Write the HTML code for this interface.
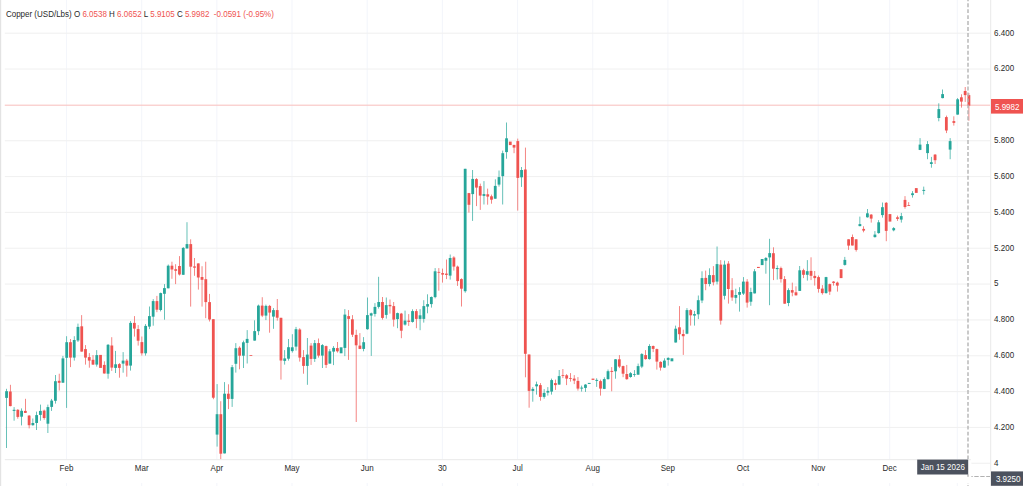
<!DOCTYPE html>
<html lang="en"><head><meta charset="utf-8"><title>Copper (USD/Lbs)</title>
<style>html,body{margin:0;padding:0;background:#fff;overflow:hidden}svg{display:block}text{font-family:"Liberation Sans",Arial,sans-serif;font-size:9.6px;fill:#2a2a2a}.r{fill:#ef5350}.w{fill:#fff}.m{text-anchor:middle}</style></head><body>
<svg width="1024" height="498" viewBox="0 0 1024 498">
<rect width="1024" height="498" fill="#fff"/>
<rect x="0" y="0" width="1.2" height="486" fill="#e3e3e3"/>
<g fill="#f4f6fb">
<rect x="65.95" y="0" width="1.1" height="486"/>
<rect x="141.12" y="0" width="1.1" height="486"/>
<rect x="216.30" y="0" width="1.1" height="486"/>
<rect x="291.47" y="0" width="1.1" height="486"/>
<rect x="366.65" y="0" width="1.1" height="486"/>
<rect x="441.82" y="0" width="1.1" height="486"/>
<rect x="516.99" y="0" width="1.1" height="486"/>
<rect x="592.17" y="0" width="1.1" height="486"/>
<rect x="667.34" y="0" width="1.1" height="486"/>
<rect x="742.52" y="0" width="1.1" height="486"/>
<rect x="817.69" y="0" width="1.1" height="486"/>
<rect x="889.10" y="0" width="1.1" height="486"/>
<rect x="956.76" y="0" width="1.1" height="486"/>
</g>
<g fill="#f1f1f1">
<rect x="4.8" y="32.65" width="986" height="1.1"/>
<rect x="4.8" y="68.49" width="986" height="1.1"/>
<rect x="4.8" y="140.17" width="986" height="1.1"/>
<rect x="4.8" y="176.01" width="986" height="1.1"/>
<rect x="4.8" y="211.85" width="986" height="1.1"/>
<rect x="4.8" y="247.69" width="986" height="1.1"/>
<rect x="4.8" y="283.53" width="986" height="1.1"/>
<rect x="4.8" y="319.37" width="986" height="1.1"/>
<rect x="4.8" y="355.21" width="986" height="1.1"/>
<rect x="4.8" y="391.05" width="986" height="1.1"/>
<rect x="4.8" y="426.89" width="986" height="1.1"/>
<rect x="4.8" y="462.73" width="986" height="1.1"/>
</g>
<rect x="4.8" y="104.65" width="986" height="1.1" fill="#f9c4c2"/>
<g>
<rect x="6.20" y="388.8" width="0.7" height="59.2" fill="#26a69a"/>
<rect x="5.15" y="391.2" width="2.8" height="6.7" fill="#26a69a"/>
<rect x="9.96" y="384.8" width="0.7" height="21.5" fill="#ef5350"/>
<rect x="8.91" y="391.5" width="2.8" height="14.6" fill="#ef5350"/>
<rect x="13.72" y="407.1" width="0.7" height="13.6" fill="#26a69a"/>
<rect x="12.67" y="409.8" width="2.8" height="1.1" fill="#26a69a"/>
<rect x="17.48" y="409.1" width="0.7" height="9.6" fill="#ef5350"/>
<rect x="16.43" y="409.8" width="2.8" height="7.1" fill="#ef5350"/>
<rect x="21.24" y="408.4" width="0.7" height="17.0" fill="#26a69a"/>
<rect x="20.19" y="410.8" width="2.8" height="5.9" fill="#26a69a"/>
<rect x="25.00" y="398.8" width="0.7" height="14.1" fill="#ef5350"/>
<rect x="23.95" y="410.9" width="2.8" height="2.0" fill="#ef5350"/>
<rect x="28.76" y="415.1" width="0.7" height="13.3" fill="#ef5350"/>
<rect x="27.71" y="415.6" width="2.8" height="9.6" fill="#ef5350"/>
<rect x="32.51" y="418.5" width="0.7" height="7.2" fill="#26a69a"/>
<rect x="31.46" y="423.0" width="2.8" height="2.2" fill="#26a69a"/>
<rect x="36.27" y="411.6" width="0.7" height="18.4" fill="#26a69a"/>
<rect x="35.22" y="415.1" width="2.8" height="7.9" fill="#26a69a"/>
<rect x="40.03" y="404.6" width="0.7" height="16.1" fill="#26a69a"/>
<rect x="38.98" y="410.9" width="2.8" height="4.0" fill="#26a69a"/>
<rect x="43.79" y="409.6" width="0.7" height="10.1" fill="#ef5350"/>
<rect x="42.74" y="410.6" width="2.8" height="7.4" fill="#ef5350"/>
<rect x="47.55" y="404.6" width="0.7" height="28.4" fill="#26a69a"/>
<rect x="46.50" y="407.1" width="2.8" height="16.6" fill="#26a69a"/>
<rect x="51.31" y="398.9" width="0.7" height="12.0" fill="#26a69a"/>
<rect x="50.26" y="400.6" width="2.8" height="6.3" fill="#26a69a"/>
<rect x="55.07" y="375.0" width="0.7" height="28.6" fill="#26a69a"/>
<rect x="54.02" y="381.2" width="2.8" height="19.6" fill="#26a69a"/>
<rect x="58.83" y="373.7" width="0.7" height="16.8" fill="#ef5350"/>
<rect x="57.78" y="380.8" width="2.8" height="2.0" fill="#ef5350"/>
<rect x="62.59" y="355.9" width="0.7" height="26.8" fill="#26a69a"/>
<rect x="61.54" y="358.4" width="2.8" height="24.3" fill="#26a69a"/>
<rect x="66.35" y="336.2" width="0.7" height="71.7" fill="#26a69a"/>
<rect x="65.30" y="342.2" width="2.8" height="15.6" fill="#26a69a"/>
<rect x="70.11" y="339.0" width="0.7" height="28.1" fill="#ef5350"/>
<rect x="69.06" y="342.2" width="2.8" height="15.4" fill="#ef5350"/>
<rect x="73.87" y="336.2" width="0.7" height="24.4" fill="#26a69a"/>
<rect x="72.82" y="340.0" width="2.8" height="17.6" fill="#26a69a"/>
<rect x="77.62" y="323.6" width="0.7" height="18.4" fill="#26a69a"/>
<rect x="76.57" y="326.9" width="2.8" height="13.6" fill="#26a69a"/>
<rect x="81.38" y="315.1" width="0.7" height="36.5" fill="#ef5350"/>
<rect x="80.33" y="326.3" width="2.8" height="25.3" fill="#ef5350"/>
<rect x="85.14" y="345.1" width="0.7" height="19.5" fill="#ef5350"/>
<rect x="84.09" y="349.1" width="2.8" height="8.5" fill="#ef5350"/>
<rect x="88.90" y="353.1" width="0.7" height="14.6" fill="#ef5350"/>
<rect x="87.85" y="357.1" width="2.8" height="3.5" fill="#ef5350"/>
<rect x="92.66" y="355.1" width="0.7" height="9.8" fill="#ef5350"/>
<rect x="91.61" y="359.8" width="2.8" height="4.8" fill="#ef5350"/>
<rect x="96.42" y="350.1" width="0.7" height="16.5" fill="#26a69a"/>
<rect x="95.37" y="355.1" width="2.8" height="9.5" fill="#26a69a"/>
<rect x="99.13" y="354.9" width="2.8" height="13.0" fill="#ef5350"/>
<rect x="103.94" y="361.3" width="0.7" height="12.2" fill="#ef5350"/>
<rect x="102.89" y="364.9" width="2.8" height="8.6" fill="#ef5350"/>
<rect x="107.70" y="344.0" width="0.7" height="34.7" fill="#26a69a"/>
<rect x="106.65" y="344.8" width="2.8" height="28.9" fill="#26a69a"/>
<rect x="111.46" y="337.2" width="0.7" height="33.7" fill="#ef5350"/>
<rect x="110.41" y="345.5" width="2.8" height="22.1" fill="#ef5350"/>
<rect x="115.22" y="350.9" width="0.7" height="22.1" fill="#26a69a"/>
<rect x="114.17" y="364.3" width="2.8" height="3.6" fill="#26a69a"/>
<rect x="118.98" y="363.1" width="0.7" height="14.6" fill="#ef5350"/>
<rect x="117.93" y="364.1" width="2.8" height="3.8" fill="#ef5350"/>
<rect x="122.74" y="352.1" width="0.7" height="20.6" fill="#26a69a"/>
<rect x="121.69" y="360.6" width="2.8" height="3.0" fill="#26a69a"/>
<rect x="126.49" y="358.9" width="0.7" height="17.8" fill="#ef5350"/>
<rect x="125.44" y="360.6" width="2.8" height="5.0" fill="#ef5350"/>
<rect x="130.25" y="321.1" width="0.7" height="49.5" fill="#26a69a"/>
<rect x="129.20" y="322.9" width="2.8" height="42.7" fill="#26a69a"/>
<rect x="134.01" y="316.1" width="0.7" height="20.5" fill="#ef5350"/>
<rect x="132.96" y="322.9" width="2.8" height="5.7" fill="#ef5350"/>
<rect x="137.77" y="325.1" width="0.7" height="20.5" fill="#ef5350"/>
<rect x="136.72" y="329.1" width="2.8" height="11.6" fill="#ef5350"/>
<rect x="141.53" y="336.5" width="0.7" height="19.1" fill="#ef5350"/>
<rect x="140.48" y="342.1" width="2.8" height="11.2" fill="#ef5350"/>
<rect x="145.29" y="324.1" width="0.7" height="31.5" fill="#26a69a"/>
<rect x="144.24" y="325.9" width="2.8" height="27.4" fill="#26a69a"/>
<rect x="149.05" y="306.5" width="0.7" height="22.6" fill="#26a69a"/>
<rect x="148.00" y="316.1" width="2.8" height="10.5" fill="#26a69a"/>
<rect x="152.81" y="299.1" width="0.7" height="26.6" fill="#26a69a"/>
<rect x="151.76" y="301.1" width="2.8" height="15.6" fill="#26a69a"/>
<rect x="156.57" y="295.9" width="0.7" height="16.3" fill="#ef5350"/>
<rect x="155.52" y="301.1" width="2.8" height="8.6" fill="#ef5350"/>
<rect x="160.33" y="292.6" width="0.7" height="18.8" fill="#26a69a"/>
<rect x="159.28" y="293.1" width="2.8" height="16.9" fill="#26a69a"/>
<rect x="164.09" y="284.1" width="0.7" height="35.6" fill="#26a69a"/>
<rect x="163.04" y="288.1" width="2.8" height="5.7" fill="#26a69a"/>
<rect x="167.85" y="264.5" width="0.7" height="23.8" fill="#26a69a"/>
<rect x="166.80" y="265.7" width="2.8" height="22.6" fill="#26a69a"/>
<rect x="171.60" y="261.7" width="0.7" height="17.1" fill="#ef5350"/>
<rect x="170.55" y="265.7" width="2.8" height="3.8" fill="#ef5350"/>
<rect x="175.36" y="264.2" width="0.7" height="19.9" fill="#ef5350"/>
<rect x="174.31" y="269.2" width="2.8" height="1.6" fill="#ef5350"/>
<rect x="179.12" y="256.1" width="0.7" height="19.4" fill="#ef5350"/>
<rect x="178.07" y="266.0" width="2.8" height="8.5" fill="#ef5350"/>
<rect x="182.88" y="247.1" width="0.7" height="27.7" fill="#26a69a"/>
<rect x="181.83" y="247.9" width="2.8" height="26.9" fill="#26a69a"/>
<rect x="186.64" y="222.2" width="0.7" height="26.4" fill="#26a69a"/>
<rect x="185.59" y="244.1" width="2.8" height="4.3" fill="#26a69a"/>
<rect x="190.40" y="239.3" width="0.7" height="67.3" fill="#ef5350"/>
<rect x="189.35" y="244.1" width="2.8" height="22.6" fill="#ef5350"/>
<rect x="194.16" y="258.0" width="0.7" height="17.8" fill="#ef5350"/>
<rect x="193.11" y="266.4" width="2.8" height="1.3" fill="#ef5350"/>
<rect x="197.92" y="263.4" width="0.7" height="26.2" fill="#ef5350"/>
<rect x="196.87" y="263.4" width="2.8" height="14.1" fill="#ef5350"/>
<rect x="201.68" y="266.2" width="0.7" height="40.4" fill="#ef5350"/>
<rect x="200.63" y="277.0" width="2.8" height="2.8" fill="#ef5350"/>
<rect x="205.44" y="261.7" width="0.7" height="56.5" fill="#ef5350"/>
<rect x="204.39" y="279.2" width="2.8" height="22.9" fill="#ef5350"/>
<rect x="209.20" y="293.9" width="0.7" height="27.6" fill="#ef5350"/>
<rect x="208.15" y="302.1" width="2.8" height="17.4" fill="#ef5350"/>
<rect x="212.96" y="319.2" width="0.7" height="80.0" fill="#ef5350"/>
<rect x="211.91" y="319.2" width="2.8" height="78.5" fill="#ef5350"/>
<rect x="216.72" y="384.1" width="0.7" height="62.5" fill="#26a69a"/>
<rect x="215.67" y="414.2" width="2.8" height="20.4" fill="#26a69a"/>
<rect x="220.47" y="401.2" width="0.7" height="58.8" fill="#ef5350"/>
<rect x="219.42" y="414.2" width="2.8" height="39.5" fill="#ef5350"/>
<rect x="224.23" y="382.1" width="0.7" height="71.3" fill="#26a69a"/>
<rect x="223.18" y="393.7" width="2.8" height="59.7" fill="#26a69a"/>
<rect x="227.99" y="384.3" width="0.7" height="24.8" fill="#ef5350"/>
<rect x="226.94" y="393.7" width="2.8" height="5.2" fill="#ef5350"/>
<rect x="231.75" y="365.0" width="0.7" height="41.9" fill="#26a69a"/>
<rect x="230.70" y="367.2" width="2.8" height="31.7" fill="#26a69a"/>
<rect x="235.51" y="343.1" width="0.7" height="29.5" fill="#26a69a"/>
<rect x="234.46" y="348.2" width="2.8" height="15.6" fill="#26a69a"/>
<rect x="239.27" y="346.3" width="0.7" height="23.0" fill="#ef5350"/>
<rect x="238.22" y="347.7" width="2.8" height="8.0" fill="#ef5350"/>
<rect x="243.03" y="340.6" width="0.7" height="27.4" fill="#26a69a"/>
<rect x="241.98" y="342.3" width="2.8" height="13.4" fill="#26a69a"/>
<rect x="246.79" y="330.1" width="0.7" height="33.4" fill="#26a69a"/>
<rect x="245.74" y="338.9" width="2.8" height="4.0" fill="#26a69a"/>
<rect x="249.50" y="355.2" width="2.8" height="0.8" fill="#ef5350"/>
<rect x="254.31" y="320.3" width="0.7" height="20.3" fill="#26a69a"/>
<rect x="253.26" y="331.1" width="2.8" height="9.5" fill="#26a69a"/>
<rect x="258.07" y="304.6" width="0.7" height="30.5" fill="#26a69a"/>
<rect x="257.02" y="305.6" width="2.8" height="25.6" fill="#26a69a"/>
<rect x="261.83" y="297.2" width="0.7" height="19.9" fill="#ef5350"/>
<rect x="260.78" y="305.6" width="2.8" height="10.0" fill="#ef5350"/>
<rect x="265.58" y="304.6" width="0.7" height="15.5" fill="#26a69a"/>
<rect x="264.53" y="305.9" width="2.8" height="9.7" fill="#26a69a"/>
<rect x="269.34" y="304.9" width="0.7" height="27.8" fill="#ef5350"/>
<rect x="268.29" y="305.9" width="2.8" height="6.7" fill="#ef5350"/>
<rect x="273.10" y="308.1" width="0.7" height="20.7" fill="#26a69a"/>
<rect x="272.05" y="310.1" width="2.8" height="6.5" fill="#26a69a"/>
<rect x="276.86" y="299.0" width="0.7" height="21.6" fill="#ef5350"/>
<rect x="275.81" y="310.1" width="2.8" height="7.6" fill="#ef5350"/>
<rect x="280.62" y="317.8" width="0.7" height="61.8" fill="#ef5350"/>
<rect x="279.57" y="317.8" width="2.8" height="42.7" fill="#ef5350"/>
<rect x="284.38" y="350.1" width="0.7" height="14.5" fill="#26a69a"/>
<rect x="283.33" y="358.4" width="2.8" height="2.5" fill="#26a69a"/>
<rect x="288.14" y="339.0" width="0.7" height="21.6" fill="#26a69a"/>
<rect x="287.09" y="347.2" width="2.8" height="11.5" fill="#26a69a"/>
<rect x="291.90" y="334.2" width="0.7" height="18.4" fill="#26a69a"/>
<rect x="290.85" y="347.3" width="2.8" height="3.8" fill="#26a69a"/>
<rect x="295.66" y="326.9" width="0.7" height="23.7" fill="#26a69a"/>
<rect x="294.61" y="329.2" width="2.8" height="17.4" fill="#26a69a"/>
<rect x="299.42" y="328.2" width="0.7" height="33.4" fill="#ef5350"/>
<rect x="298.37" y="329.5" width="2.8" height="28.1" fill="#ef5350"/>
<rect x="303.18" y="350.1" width="0.7" height="23.6" fill="#ef5350"/>
<rect x="302.13" y="357.1" width="2.8" height="8.8" fill="#ef5350"/>
<rect x="306.94" y="338.0" width="0.7" height="46.8" fill="#26a69a"/>
<rect x="305.89" y="354.6" width="2.8" height="11.3" fill="#26a69a"/>
<rect x="310.70" y="343.1" width="0.7" height="21.8" fill="#ef5350"/>
<rect x="309.65" y="345.6" width="2.8" height="13.3" fill="#ef5350"/>
<rect x="314.45" y="340.0" width="0.7" height="21.9" fill="#26a69a"/>
<rect x="313.40" y="343.1" width="2.8" height="15.8" fill="#26a69a"/>
<rect x="318.21" y="338.5" width="0.7" height="19.1" fill="#ef5350"/>
<rect x="317.16" y="343.1" width="2.8" height="12.5" fill="#ef5350"/>
<rect x="321.97" y="344.1" width="0.7" height="23.9" fill="#26a69a"/>
<rect x="320.92" y="345.1" width="2.8" height="10.5" fill="#26a69a"/>
<rect x="325.73" y="345.6" width="0.7" height="22.4" fill="#ef5350"/>
<rect x="324.68" y="346.1" width="2.8" height="18.8" fill="#ef5350"/>
<rect x="329.49" y="349.1" width="0.7" height="14.5" fill="#26a69a"/>
<rect x="328.44" y="351.3" width="2.8" height="12.3" fill="#26a69a"/>
<rect x="333.25" y="346.1" width="0.7" height="19.0" fill="#26a69a"/>
<rect x="332.20" y="347.9" width="2.8" height="3.7" fill="#26a69a"/>
<rect x="337.01" y="342.0" width="0.7" height="10.6" fill="#ef5350"/>
<rect x="335.96" y="348.1" width="2.8" height="3.2" fill="#ef5350"/>
<rect x="339.72" y="347.3" width="2.8" height="6.0" fill="#26a69a"/>
<rect x="344.53" y="309.1" width="0.7" height="47.0" fill="#26a69a"/>
<rect x="343.48" y="314.6" width="2.8" height="33.3" fill="#26a69a"/>
<rect x="348.29" y="310.1" width="0.7" height="49.8" fill="#ef5350"/>
<rect x="347.24" y="316.1" width="2.8" height="2.8" fill="#ef5350"/>
<rect x="352.05" y="315.1" width="0.7" height="21.9" fill="#ef5350"/>
<rect x="351.00" y="319.3" width="2.8" height="15.4" fill="#ef5350"/>
<rect x="355.81" y="329.7" width="0.7" height="92.3" fill="#ef5350"/>
<rect x="354.76" y="334.9" width="2.8" height="10.4" fill="#ef5350"/>
<rect x="359.56" y="333.1" width="0.7" height="16.0" fill="#ef5350"/>
<rect x="358.51" y="345.6" width="2.8" height="3.3" fill="#ef5350"/>
<rect x="363.32" y="337.1" width="0.7" height="14.2" fill="#26a69a"/>
<rect x="362.27" y="342.2" width="2.8" height="6.7" fill="#26a69a"/>
<rect x="367.08" y="297.5" width="0.7" height="32.2" fill="#26a69a"/>
<rect x="366.03" y="315.1" width="2.8" height="14.1" fill="#26a69a"/>
<rect x="370.84" y="312.6" width="0.7" height="43.3" fill="#26a69a"/>
<rect x="369.79" y="313.3" width="2.8" height="2.3" fill="#26a69a"/>
<rect x="374.60" y="303.1" width="0.7" height="13.5" fill="#26a69a"/>
<rect x="373.55" y="306.9" width="2.8" height="7.0" fill="#26a69a"/>
<rect x="378.36" y="276.8" width="0.7" height="31.8" fill="#26a69a"/>
<rect x="377.31" y="302.0" width="2.8" height="4.9" fill="#26a69a"/>
<rect x="382.12" y="297.0" width="0.7" height="22.6" fill="#ef5350"/>
<rect x="381.07" y="302.0" width="2.8" height="15.9" fill="#ef5350"/>
<rect x="385.88" y="297.5" width="0.7" height="21.1" fill="#26a69a"/>
<rect x="384.83" y="305.1" width="2.8" height="9.8" fill="#26a69a"/>
<rect x="389.64" y="299.5" width="0.7" height="14.1" fill="#ef5350"/>
<rect x="388.59" y="304.9" width="2.8" height="1.4" fill="#ef5350"/>
<rect x="393.40" y="302.0" width="0.7" height="24.6" fill="#ef5350"/>
<rect x="392.35" y="306.1" width="2.8" height="13.5" fill="#ef5350"/>
<rect x="397.16" y="312.6" width="0.7" height="15.6" fill="#26a69a"/>
<rect x="396.11" y="313.1" width="2.8" height="6.0" fill="#26a69a"/>
<rect x="400.92" y="312.9" width="0.7" height="25.3" fill="#ef5350"/>
<rect x="399.87" y="313.6" width="2.8" height="17.1" fill="#ef5350"/>
<rect x="404.68" y="310.6" width="0.7" height="15.0" fill="#26a69a"/>
<rect x="403.63" y="320.6" width="2.8" height="4.0" fill="#26a69a"/>
<rect x="408.43" y="314.1" width="0.7" height="11.8" fill="#ef5350"/>
<rect x="407.38" y="320.6" width="2.8" height="1.3" fill="#ef5350"/>
<rect x="412.19" y="309.3" width="0.7" height="13.3" fill="#26a69a"/>
<rect x="411.14" y="311.1" width="2.8" height="10.8" fill="#26a69a"/>
<rect x="415.95" y="309.1" width="0.7" height="19.1" fill="#ef5350"/>
<rect x="414.90" y="311.1" width="2.8" height="7.8" fill="#ef5350"/>
<rect x="419.71" y="309.1" width="0.7" height="21.1" fill="#26a69a"/>
<rect x="418.66" y="315.3" width="2.8" height="3.6" fill="#26a69a"/>
<rect x="423.47" y="300.2" width="0.7" height="22.4" fill="#26a69a"/>
<rect x="422.42" y="306.1" width="2.8" height="12.8" fill="#26a69a"/>
<rect x="427.23" y="294.3" width="0.7" height="19.0" fill="#26a69a"/>
<rect x="426.18" y="304.1" width="2.8" height="2.5" fill="#26a69a"/>
<rect x="430.99" y="296.5" width="0.7" height="11.1" fill="#26a69a"/>
<rect x="429.94" y="297.0" width="2.8" height="7.1" fill="#26a69a"/>
<rect x="434.75" y="268.1" width="0.7" height="30.2" fill="#26a69a"/>
<rect x="433.70" y="271.3" width="2.8" height="25.8" fill="#26a69a"/>
<rect x="438.51" y="268.1" width="0.7" height="22.6" fill="#ef5350"/>
<rect x="437.46" y="271.9" width="2.8" height="0.8" fill="#ef5350"/>
<rect x="442.27" y="268.6" width="0.7" height="14.0" fill="#ef5350"/>
<rect x="441.22" y="273.1" width="2.8" height="1.5" fill="#ef5350"/>
<rect x="446.03" y="259.5" width="0.7" height="19.6" fill="#ef5350"/>
<rect x="444.98" y="273.6" width="2.8" height="1.3" fill="#ef5350"/>
<rect x="449.79" y="254.5" width="0.7" height="25.1" fill="#26a69a"/>
<rect x="448.74" y="258.0" width="2.8" height="17.6" fill="#26a69a"/>
<rect x="453.54" y="256.2" width="0.7" height="14.4" fill="#ef5350"/>
<rect x="452.49" y="257.5" width="2.8" height="9.1" fill="#ef5350"/>
<rect x="457.30" y="265.6" width="0.7" height="20.3" fill="#ef5350"/>
<rect x="456.25" y="266.6" width="2.8" height="14.5" fill="#ef5350"/>
<rect x="461.06" y="278.3" width="0.7" height="28.2" fill="#ef5350"/>
<rect x="460.01" y="279.1" width="2.8" height="9.6" fill="#ef5350"/>
<rect x="464.82" y="168.8" width="0.7" height="123.9" fill="#26a69a"/>
<rect x="463.77" y="168.8" width="2.8" height="122.4" fill="#26a69a"/>
<rect x="468.58" y="192.9" width="0.7" height="19.7" fill="#ef5350"/>
<rect x="467.53" y="193.1" width="2.8" height="11.7" fill="#ef5350"/>
<rect x="472.34" y="170.0" width="0.7" height="50.9" fill="#26a69a"/>
<rect x="471.29" y="178.9" width="2.8" height="15.2" fill="#26a69a"/>
<rect x="476.10" y="178.1" width="0.7" height="28.0" fill="#ef5350"/>
<rect x="475.05" y="179.1" width="2.8" height="8.5" fill="#ef5350"/>
<rect x="479.86" y="183.6" width="0.7" height="26.3" fill="#ef5350"/>
<rect x="478.81" y="186.1" width="2.8" height="9.5" fill="#ef5350"/>
<rect x="483.62" y="181.1" width="0.7" height="23.4" fill="#26a69a"/>
<rect x="482.57" y="194.1" width="2.8" height="1.8" fill="#26a69a"/>
<rect x="487.38" y="188.6" width="0.7" height="16.1" fill="#ef5350"/>
<rect x="486.33" y="194.3" width="2.8" height="2.3" fill="#ef5350"/>
<rect x="491.14" y="194.6" width="0.7" height="9.1" fill="#ef5350"/>
<rect x="490.09" y="196.3" width="2.8" height="3.4" fill="#ef5350"/>
<rect x="494.90" y="179.3" width="0.7" height="19.4" fill="#26a69a"/>
<rect x="493.85" y="185.9" width="2.8" height="12.8" fill="#26a69a"/>
<rect x="498.66" y="170.5" width="0.7" height="16.1" fill="#26a69a"/>
<rect x="497.61" y="177.1" width="2.8" height="7.5" fill="#26a69a"/>
<rect x="502.41" y="150.6" width="0.7" height="53.9" fill="#26a69a"/>
<rect x="501.36" y="153.2" width="2.8" height="22.9" fill="#26a69a"/>
<rect x="506.17" y="122.5" width="0.7" height="36.2" fill="#26a69a"/>
<rect x="505.12" y="138.3" width="2.8" height="13.8" fill="#26a69a"/>
<rect x="508.88" y="141.6" width="2.8" height="3.5" fill="#ef5350"/>
<rect x="513.69" y="144.9" width="0.7" height="8.3" fill="#ef5350"/>
<rect x="512.64" y="144.9" width="2.8" height="2.7" fill="#ef5350"/>
<rect x="517.45" y="138.6" width="0.7" height="72.0" fill="#ef5350"/>
<rect x="516.40" y="141.1" width="2.8" height="36.8" fill="#ef5350"/>
<rect x="521.21" y="167.0" width="0.7" height="19.9" fill="#26a69a"/>
<rect x="520.16" y="170.0" width="2.8" height="7.3" fill="#26a69a"/>
<rect x="524.97" y="147.6" width="0.7" height="229.7" fill="#ef5350"/>
<rect x="523.92" y="169.5" width="2.8" height="184.3" fill="#ef5350"/>
<rect x="528.73" y="354.5" width="0.7" height="53.2" fill="#ef5350"/>
<rect x="527.68" y="354.5" width="2.8" height="36.4" fill="#ef5350"/>
<rect x="532.49" y="387.1" width="0.7" height="14.6" fill="#26a69a"/>
<rect x="531.44" y="388.9" width="2.8" height="2.0" fill="#26a69a"/>
<rect x="536.25" y="381.6" width="0.7" height="13.0" fill="#26a69a"/>
<rect x="535.20" y="384.3" width="2.8" height="2.0" fill="#26a69a"/>
<rect x="540.01" y="383.1" width="0.7" height="17.6" fill="#ef5350"/>
<rect x="538.96" y="385.1" width="2.8" height="11.8" fill="#ef5350"/>
<rect x="543.77" y="389.1" width="0.7" height="9.6" fill="#26a69a"/>
<rect x="542.72" y="392.9" width="2.8" height="4.0" fill="#26a69a"/>
<rect x="547.52" y="387.1" width="0.7" height="8.5" fill="#26a69a"/>
<rect x="546.47" y="390.9" width="2.8" height="1.7" fill="#26a69a"/>
<rect x="551.28" y="378.6" width="0.7" height="16.0" fill="#26a69a"/>
<rect x="550.23" y="380.1" width="2.8" height="11.5" fill="#26a69a"/>
<rect x="555.04" y="379.6" width="0.7" height="10.3" fill="#ef5350"/>
<rect x="553.99" y="383.1" width="2.8" height="2.0" fill="#ef5350"/>
<rect x="558.80" y="370.0" width="0.7" height="14.6" fill="#26a69a"/>
<rect x="557.75" y="376.1" width="2.8" height="8.5" fill="#26a69a"/>
<rect x="562.56" y="369.0" width="0.7" height="9.1" fill="#ef5350"/>
<rect x="561.51" y="375.1" width="2.8" height="0.8" fill="#ef5350"/>
<rect x="566.32" y="374.1" width="0.7" height="11.0" fill="#ef5350"/>
<rect x="565.27" y="375.3" width="2.8" height="3.3" fill="#ef5350"/>
<rect x="570.08" y="373.1" width="0.7" height="8.5" fill="#ef5350"/>
<rect x="569.03" y="378.1" width="2.8" height="0.8" fill="#ef5350"/>
<rect x="573.84" y="375.1" width="0.7" height="9.0" fill="#ef5350"/>
<rect x="572.79" y="378.6" width="2.8" height="2.0" fill="#ef5350"/>
<rect x="577.60" y="377.1" width="0.7" height="13.5" fill="#ef5350"/>
<rect x="576.55" y="380.9" width="2.8" height="7.7" fill="#ef5350"/>
<rect x="581.36" y="385.6" width="0.7" height="6.0" fill="#26a69a"/>
<rect x="580.31" y="387.6" width="2.8" height="1.0" fill="#26a69a"/>
<rect x="585.12" y="384.1" width="0.7" height="7.8" fill="#26a69a"/>
<rect x="584.07" y="384.6" width="2.8" height="3.3" fill="#26a69a"/>
<rect x="587.83" y="382.9" width="2.8" height="1.0" fill="#26a69a"/>
<rect x="591.59" y="378.6" width="2.8" height="1.3" fill="#ef5350"/>
<rect x="596.39" y="378.3" width="0.7" height="8.6" fill="#26a69a"/>
<rect x="595.34" y="379.9" width="2.8" height="1.0" fill="#26a69a"/>
<rect x="600.15" y="379.6" width="0.7" height="16.0" fill="#ef5350"/>
<rect x="599.10" y="381.1" width="2.8" height="7.5" fill="#ef5350"/>
<rect x="603.91" y="377.3" width="0.7" height="11.8" fill="#26a69a"/>
<rect x="602.86" y="379.1" width="2.8" height="9.8" fill="#26a69a"/>
<rect x="607.67" y="369.5" width="0.7" height="10.1" fill="#26a69a"/>
<rect x="606.62" y="371.2" width="2.8" height="7.9" fill="#26a69a"/>
<rect x="611.43" y="367.1" width="0.7" height="24.2" fill="#ef5350"/>
<rect x="610.38" y="370.9" width="2.8" height="1.0" fill="#ef5350"/>
<rect x="615.19" y="359.1" width="0.7" height="19.6" fill="#26a69a"/>
<rect x="614.14" y="359.3" width="2.8" height="12.0" fill="#26a69a"/>
<rect x="618.95" y="355.1" width="0.7" height="13.0" fill="#ef5350"/>
<rect x="617.90" y="359.3" width="2.8" height="7.3" fill="#ef5350"/>
<rect x="622.71" y="365.6" width="0.7" height="11.6" fill="#ef5350"/>
<rect x="621.66" y="366.1" width="2.8" height="7.6" fill="#ef5350"/>
<rect x="626.47" y="364.9" width="0.7" height="14.8" fill="#ef5350"/>
<rect x="625.42" y="374.0" width="2.8" height="5.2" fill="#ef5350"/>
<rect x="630.23" y="372.1" width="0.7" height="5.6" fill="#26a69a"/>
<rect x="629.18" y="373.2" width="2.8" height="3.8" fill="#26a69a"/>
<rect x="633.99" y="370.1" width="0.7" height="6.6" fill="#26a69a"/>
<rect x="632.94" y="374.0" width="2.8" height="0.8" fill="#26a69a"/>
<rect x="637.75" y="363.6" width="0.7" height="11.1" fill="#26a69a"/>
<rect x="636.70" y="366.1" width="2.8" height="8.6" fill="#26a69a"/>
<rect x="641.50" y="353.1" width="0.7" height="15.0" fill="#26a69a"/>
<rect x="640.45" y="354.1" width="2.8" height="12.5" fill="#26a69a"/>
<rect x="645.26" y="350.1" width="0.7" height="9.5" fill="#ef5350"/>
<rect x="644.21" y="355.1" width="2.8" height="4.0" fill="#ef5350"/>
<rect x="649.02" y="344.2" width="0.7" height="15.4" fill="#26a69a"/>
<rect x="647.97" y="346.0" width="2.8" height="13.1" fill="#26a69a"/>
<rect x="652.78" y="345.5" width="0.7" height="6.6" fill="#ef5350"/>
<rect x="651.73" y="346.0" width="2.8" height="2.9" fill="#ef5350"/>
<rect x="656.54" y="348.6" width="0.7" height="21.0" fill="#ef5350"/>
<rect x="655.49" y="349.1" width="2.8" height="12.5" fill="#ef5350"/>
<rect x="660.30" y="361.3" width="0.7" height="9.3" fill="#ef5350"/>
<rect x="659.25" y="361.9" width="2.8" height="5.7" fill="#ef5350"/>
<rect x="664.06" y="358.3" width="0.7" height="9.6" fill="#26a69a"/>
<rect x="663.01" y="360.6" width="2.8" height="7.0" fill="#26a69a"/>
<rect x="667.82" y="357.3" width="0.7" height="8.3" fill="#26a69a"/>
<rect x="666.77" y="357.9" width="2.8" height="2.0" fill="#26a69a"/>
<rect x="670.53" y="358.3" width="2.8" height="3.0" fill="#26a69a"/>
<rect x="675.34" y="325.6" width="0.7" height="16.9" fill="#26a69a"/>
<rect x="674.29" y="328.7" width="2.8" height="13.8" fill="#26a69a"/>
<rect x="679.10" y="306.1" width="0.7" height="33.7" fill="#ef5350"/>
<rect x="678.05" y="327.3" width="2.8" height="6.9" fill="#ef5350"/>
<rect x="682.86" y="329.7" width="0.7" height="25.2" fill="#ef5350"/>
<rect x="681.81" y="334.0" width="2.8" height="2.2" fill="#ef5350"/>
<rect x="686.62" y="308.1" width="0.7" height="26.1" fill="#26a69a"/>
<rect x="685.57" y="310.1" width="2.8" height="23.6" fill="#26a69a"/>
<rect x="690.37" y="309.1" width="0.7" height="16.5" fill="#ef5350"/>
<rect x="689.32" y="310.1" width="2.8" height="5.2" fill="#ef5350"/>
<rect x="694.13" y="310.9" width="0.7" height="14.7" fill="#26a69a"/>
<rect x="693.08" y="314.1" width="2.8" height="1.5" fill="#26a69a"/>
<rect x="697.89" y="295.5" width="0.7" height="23.6" fill="#26a69a"/>
<rect x="696.84" y="300.2" width="2.8" height="14.1" fill="#26a69a"/>
<rect x="701.65" y="271.3" width="0.7" height="31.8" fill="#26a69a"/>
<rect x="700.60" y="278.1" width="2.8" height="22.4" fill="#26a69a"/>
<rect x="705.41" y="270.6" width="0.7" height="19.6" fill="#ef5350"/>
<rect x="704.36" y="277.9" width="2.8" height="6.1" fill="#ef5350"/>
<rect x="709.17" y="268.3" width="0.7" height="18.1" fill="#26a69a"/>
<rect x="708.12" y="275.1" width="2.8" height="8.9" fill="#26a69a"/>
<rect x="712.93" y="266.1" width="0.7" height="19.3" fill="#ef5350"/>
<rect x="711.88" y="275.1" width="2.8" height="7.2" fill="#ef5350"/>
<rect x="716.69" y="246.5" width="0.7" height="37.9" fill="#26a69a"/>
<rect x="715.64" y="264.1" width="2.8" height="17.5" fill="#26a69a"/>
<rect x="720.45" y="260.1" width="0.7" height="64.5" fill="#ef5350"/>
<rect x="719.40" y="264.6" width="2.8" height="56.0" fill="#ef5350"/>
<rect x="724.21" y="260.6" width="0.7" height="38.9" fill="#26a69a"/>
<rect x="723.16" y="264.6" width="2.8" height="31.2" fill="#26a69a"/>
<rect x="727.97" y="261.1" width="0.7" height="42.5" fill="#ef5350"/>
<rect x="726.92" y="263.6" width="2.8" height="25.4" fill="#ef5350"/>
<rect x="731.73" y="278.1" width="0.7" height="22.7" fill="#ef5350"/>
<rect x="730.68" y="290.2" width="2.8" height="7.3" fill="#ef5350"/>
<rect x="735.48" y="288.7" width="0.7" height="14.9" fill="#26a69a"/>
<rect x="734.43" y="295.0" width="2.8" height="2.8" fill="#26a69a"/>
<rect x="739.24" y="287.2" width="0.7" height="24.4" fill="#26a69a"/>
<rect x="738.19" y="292.0" width="2.8" height="2.8" fill="#26a69a"/>
<rect x="743.00" y="277.1" width="0.7" height="17.9" fill="#26a69a"/>
<rect x="741.95" y="281.6" width="2.8" height="12.0" fill="#26a69a"/>
<rect x="746.76" y="279.1" width="0.7" height="28.5" fill="#ef5350"/>
<rect x="745.71" y="281.6" width="2.8" height="21.0" fill="#ef5350"/>
<rect x="750.52" y="287.7" width="0.7" height="18.1" fill="#26a69a"/>
<rect x="749.47" y="292.0" width="2.8" height="9.7" fill="#26a69a"/>
<rect x="754.28" y="269.1" width="0.7" height="24.3" fill="#26a69a"/>
<rect x="753.23" y="271.3" width="2.8" height="22.1" fill="#26a69a"/>
<rect x="756.99" y="266.9" width="2.8" height="1.1" fill="#ef5350"/>
<rect x="760.75" y="259.0" width="2.8" height="6.1" fill="#26a69a"/>
<rect x="765.56" y="257.0" width="0.7" height="16.7" fill="#26a69a"/>
<rect x="764.51" y="258.0" width="2.8" height="2.7" fill="#26a69a"/>
<rect x="769.32" y="238.8" width="0.7" height="66.4" fill="#26a69a"/>
<rect x="768.27" y="253.1" width="2.8" height="4.3" fill="#26a69a"/>
<rect x="773.08" y="247.3" width="0.7" height="32.8" fill="#ef5350"/>
<rect x="772.03" y="253.2" width="2.8" height="15.5" fill="#ef5350"/>
<rect x="776.84" y="265.4" width="0.7" height="14.2" fill="#26a69a"/>
<rect x="775.79" y="268.0" width="2.8" height="1.1" fill="#26a69a"/>
<rect x="780.60" y="266.6" width="0.7" height="16.0" fill="#ef5350"/>
<rect x="779.55" y="268.1" width="2.8" height="11.0" fill="#ef5350"/>
<rect x="784.35" y="276.1" width="0.7" height="27.6" fill="#ef5350"/>
<rect x="783.30" y="279.1" width="2.8" height="24.6" fill="#ef5350"/>
<rect x="788.11" y="288.3" width="0.7" height="17.9" fill="#26a69a"/>
<rect x="787.06" y="290.1" width="2.8" height="12.9" fill="#26a69a"/>
<rect x="791.87" y="282.6" width="0.7" height="13.7" fill="#ef5350"/>
<rect x="790.82" y="290.1" width="2.8" height="2.5" fill="#ef5350"/>
<rect x="795.63" y="286.3" width="0.7" height="9.3" fill="#ef5350"/>
<rect x="794.58" y="292.3" width="2.8" height="3.0" fill="#ef5350"/>
<rect x="799.39" y="266.0" width="0.7" height="24.9" fill="#26a69a"/>
<rect x="798.34" y="270.3" width="2.8" height="20.6" fill="#26a69a"/>
<rect x="803.15" y="268.7" width="0.7" height="9.4" fill="#ef5350"/>
<rect x="802.10" y="270.2" width="2.8" height="4.6" fill="#ef5350"/>
<rect x="806.91" y="260.1" width="0.7" height="20.5" fill="#26a69a"/>
<rect x="805.86" y="271.2" width="2.8" height="3.6" fill="#26a69a"/>
<rect x="810.67" y="257.3" width="0.7" height="22.8" fill="#ef5350"/>
<rect x="809.62" y="270.9" width="2.8" height="4.9" fill="#ef5350"/>
<rect x="814.43" y="271.0" width="0.7" height="14.6" fill="#ef5350"/>
<rect x="813.38" y="275.9" width="2.8" height="2.2" fill="#ef5350"/>
<rect x="818.19" y="275.5" width="0.7" height="17.1" fill="#ef5350"/>
<rect x="817.14" y="277.1" width="2.8" height="11.8" fill="#ef5350"/>
<rect x="821.95" y="285.1" width="0.7" height="9.5" fill="#ef5350"/>
<rect x="820.90" y="288.6" width="2.8" height="4.5" fill="#ef5350"/>
<rect x="825.71" y="276.8" width="0.7" height="16.8" fill="#26a69a"/>
<rect x="824.66" y="277.1" width="2.8" height="16.0" fill="#26a69a"/>
<rect x="829.46" y="283.6" width="0.7" height="11.3" fill="#ef5350"/>
<rect x="828.41" y="284.1" width="2.8" height="7.5" fill="#ef5350"/>
<rect x="833.22" y="281.1" width="0.7" height="4.5" fill="#ef5350"/>
<rect x="832.17" y="281.6" width="2.8" height="1.3" fill="#ef5350"/>
<rect x="836.98" y="281.6" width="0.7" height="10.0" fill="#ef5350"/>
<rect x="835.93" y="282.6" width="2.8" height="3.0" fill="#ef5350"/>
<rect x="839.69" y="269.2" width="2.8" height="8.9" fill="#ef5350"/>
<rect x="844.50" y="256.9" width="0.7" height="8.7" fill="#26a69a"/>
<rect x="843.45" y="259.9" width="2.8" height="5.0" fill="#26a69a"/>
<rect x="848.26" y="239.3" width="0.7" height="10.6" fill="#ef5350"/>
<rect x="847.21" y="239.3" width="2.8" height="6.3" fill="#ef5350"/>
<rect x="852.02" y="234.5" width="0.7" height="11.0" fill="#ef5350"/>
<rect x="850.97" y="237.0" width="2.8" height="8.5" fill="#ef5350"/>
<rect x="855.78" y="239.3" width="0.7" height="12.3" fill="#ef5350"/>
<rect x="854.73" y="239.3" width="2.8" height="10.6" fill="#ef5350"/>
<rect x="859.54" y="216.6" width="0.7" height="9.7" fill="#26a69a"/>
<rect x="858.49" y="224.1" width="2.8" height="2.0" fill="#26a69a"/>
<rect x="863.30" y="226.3" width="0.7" height="6.0" fill="#ef5350"/>
<rect x="862.25" y="228.9" width="2.8" height="1.7" fill="#ef5350"/>
<rect x="867.06" y="209.0" width="0.7" height="8.6" fill="#26a69a"/>
<rect x="866.01" y="213.3" width="2.8" height="4.0" fill="#26a69a"/>
<rect x="870.82" y="214.1" width="0.7" height="8.5" fill="#ef5350"/>
<rect x="869.77" y="214.6" width="2.8" height="4.0" fill="#ef5350"/>
<rect x="874.58" y="231.1" width="0.7" height="6.5" fill="#26a69a"/>
<rect x="873.53" y="234.6" width="2.8" height="2.5" fill="#26a69a"/>
<rect x="878.33" y="220.1" width="0.7" height="13.5" fill="#26a69a"/>
<rect x="877.28" y="222.3" width="2.8" height="10.8" fill="#26a69a"/>
<rect x="882.09" y="202.5" width="0.7" height="15.1" fill="#26a69a"/>
<rect x="881.04" y="207.2" width="2.8" height="7.9" fill="#26a69a"/>
<rect x="885.85" y="202.0" width="0.7" height="39.2" fill="#ef5350"/>
<rect x="884.80" y="202.8" width="2.8" height="28.1" fill="#ef5350"/>
<rect x="888.56" y="214.1" width="2.8" height="7.5" fill="#ef5350"/>
<rect x="893.37" y="227.1" width="0.7" height="4.2" fill="#26a69a"/>
<rect x="892.32" y="228.1" width="2.8" height="2.2" fill="#26a69a"/>
<rect x="897.13" y="215.6" width="0.7" height="5.3" fill="#ef5350"/>
<rect x="896.08" y="217.3" width="2.8" height="1.6" fill="#ef5350"/>
<rect x="900.89" y="212.9" width="0.7" height="9.7" fill="#26a69a"/>
<rect x="899.84" y="216.1" width="2.8" height="3.5" fill="#26a69a"/>
<rect x="904.65" y="196.1" width="0.7" height="12.6" fill="#ef5350"/>
<rect x="903.60" y="199.9" width="2.8" height="7.1" fill="#ef5350"/>
<rect x="908.41" y="202.1" width="0.7" height="3.7" fill="#ef5350"/>
<rect x="907.36" y="205.2" width="2.8" height="0.8" fill="#ef5350"/>
<rect x="912.17" y="191.1" width="0.7" height="6.5" fill="#26a69a"/>
<rect x="911.12" y="193.3" width="2.8" height="1.8" fill="#26a69a"/>
<rect x="914.88" y="188.1" width="2.8" height="4.8" fill="#ef5350"/>
<rect x="919.69" y="138.1" width="0.7" height="12.0" fill="#26a69a"/>
<rect x="918.64" y="144.6" width="2.8" height="5.3" fill="#26a69a"/>
<rect x="923.44" y="186.6" width="0.7" height="8.0" fill="#26a69a"/>
<rect x="922.39" y="189.9" width="2.8" height="1.0" fill="#26a69a"/>
<rect x="927.20" y="141.1" width="0.7" height="18.1" fill="#26a69a"/>
<rect x="926.15" y="144.1" width="2.8" height="9.0" fill="#26a69a"/>
<rect x="930.96" y="156.9" width="0.7" height="10.8" fill="#26a69a"/>
<rect x="929.91" y="162.2" width="2.8" height="1.8" fill="#26a69a"/>
<rect x="934.72" y="154.1" width="0.7" height="9.9" fill="#ef5350"/>
<rect x="933.67" y="154.6" width="2.8" height="5.6" fill="#ef5350"/>
<rect x="938.48" y="103.3" width="0.7" height="18.0" fill="#26a69a"/>
<rect x="937.43" y="109.1" width="2.8" height="8.9" fill="#26a69a"/>
<rect x="942.24" y="89.5" width="0.7" height="8.8" fill="#26a69a"/>
<rect x="941.19" y="94.1" width="2.8" height="4.0" fill="#26a69a"/>
<rect x="946.00" y="115.6" width="0.7" height="17.5" fill="#ef5350"/>
<rect x="944.95" y="117.1" width="2.8" height="13.4" fill="#ef5350"/>
<rect x="949.76" y="138.1" width="0.7" height="21.1" fill="#26a69a"/>
<rect x="948.71" y="141.1" width="2.8" height="8.5" fill="#26a69a"/>
<rect x="953.52" y="116.3" width="0.7" height="9.3" fill="#ef5350"/>
<rect x="952.47" y="121.1" width="2.8" height="1.8" fill="#ef5350"/>
<rect x="957.28" y="98.1" width="0.7" height="16.5" fill="#26a69a"/>
<rect x="956.23" y="99.3" width="2.8" height="15.3" fill="#26a69a"/>
<rect x="961.04" y="94.3" width="0.7" height="13.3" fill="#ef5350"/>
<rect x="959.99" y="97.3" width="2.8" height="4.3" fill="#ef5350"/>
<rect x="964.80" y="87.0" width="0.7" height="14.9" fill="#ef5350"/>
<rect x="963.75" y="91.0" width="2.8" height="4.1" fill="#ef5350"/>
<rect x="968.56" y="93.1" width="0.7" height="27.6" fill="#ef5350"/>
<rect x="967.51" y="95.1" width="2.8" height="10.5" fill="#ef5350"/>
</g>
<line x1="968.0" y1="0" x2="968.0" y2="486" stroke="#b4b4b4" stroke-width="1.4" stroke-dasharray="3.9 2.05" stroke-dashoffset="2.69"/>
<line x1="968.35" y1="476.5" x2="990.6" y2="476.5" stroke="#a8a8a8" stroke-width="0.9" stroke-dasharray="4.4 1.55"/>
<rect x="4.8" y="459.5" width="966.6" height="23.6" fill="#fff"/>
<rect x="4.8" y="459.1" width="966" height="1.1" fill="#ececec"/>
<rect x="967.3" y="474.4" width="1.4" height="2.4" fill="#b4b4b4"/>
<text class="m" transform="translate(66.50,471.20) scale(0.835,1)" xml:space="preserve">Feb</text>
<text class="m" transform="translate(141.67,471.20) scale(0.835,1)" xml:space="preserve">Mar</text>
<text class="m" transform="translate(216.85,471.20) scale(0.835,1)" xml:space="preserve">Apr</text>
<text class="m" transform="translate(292.02,471.20) scale(0.835,1)" xml:space="preserve">May</text>
<text class="m" transform="translate(367.20,471.20) scale(0.835,1)" xml:space="preserve">Jun</text>
<text class="m" transform="translate(442.37,471.20) scale(0.835,1)" xml:space="preserve">30</text>
<text class="m" transform="translate(517.54,471.20) scale(0.835,1)" xml:space="preserve">Jul</text>
<text class="m" transform="translate(592.72,471.20) scale(0.835,1)" xml:space="preserve">Aug</text>
<text class="m" transform="translate(667.89,471.20) scale(0.835,1)" xml:space="preserve">Sep</text>
<text class="m" transform="translate(743.07,471.20) scale(0.835,1)" xml:space="preserve">Oct</text>
<text class="m" transform="translate(818.24,471.20) scale(0.835,1)" xml:space="preserve">Nov</text>
<text class="m" transform="translate(889.65,471.20) scale(0.835,1)" xml:space="preserve">Dec</text>
<rect x="990.6" y="0" width="33.4" height="486" fill="#fff"/>
<rect x="990.1" y="0" width="1.1" height="486" fill="#ebebeb"/>
<text transform="translate(994.10,35.50) scale(0.835,1)" xml:space="preserve">6.400</text>
<text transform="translate(994.10,71.34) scale(0.835,1)" xml:space="preserve">6.200</text>
<text transform="translate(994.10,143.02) scale(0.835,1)" xml:space="preserve">5.800</text>
<text transform="translate(994.10,178.86) scale(0.835,1)" xml:space="preserve">5.600</text>
<text transform="translate(994.10,214.70) scale(0.835,1)" xml:space="preserve">5.400</text>
<text transform="translate(994.10,250.54) scale(0.835,1)" xml:space="preserve">5.200</text>
<text transform="translate(994.10,286.38) scale(0.835,1)" xml:space="preserve">5</text>
<text transform="translate(994.10,322.22) scale(0.835,1)" xml:space="preserve">4.800</text>
<text transform="translate(994.10,358.06) scale(0.835,1)" xml:space="preserve">4.600</text>
<text transform="translate(994.10,393.90) scale(0.835,1)" xml:space="preserve">4.400</text>
<text transform="translate(994.10,429.74) scale(0.835,1)" xml:space="preserve">4.200</text>
<text transform="translate(994.10,465.58) scale(0.835,1)" xml:space="preserve">4</text>
<rect x="991" y="99" width="32" height="14.6" fill="#ef5350"/>
<text class="w" transform="translate(995.00,110.00) scale(0.835,1)" xml:space="preserve">5.9982</text>
<rect x="991" y="471.4" width="32" height="14.4" fill="#4c525e"/>
<text class="w" transform="translate(995.90,482.00) scale(0.835,1)" xml:space="preserve">3.9250</text>
<rect x="917.2" y="459.6" width="51" height="14.9" fill="#4c525e"/>
<text class="w m" transform="translate(942.80,470.40) scale(0.835,1)" xml:space="preserve">Jan 15 2026</text>
<text transform="translate(5.90,16.80) scale(0.835,1)" xml:space="preserve">Copper (USD/Lbs) O <tspan class="r">6.0538</tspan> H <tspan class="r">6.0652</tspan> L <tspan class="r">5.9105</tspan> C <tspan class="r">5.9982</tspan>  <tspan class="r">-0.0591 (-0.95%)</tspan></text>
</svg></body></html>
